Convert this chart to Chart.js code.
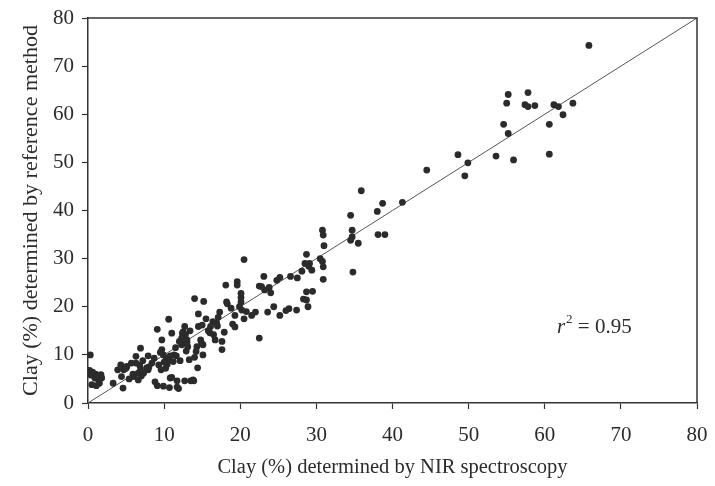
<!DOCTYPE html>
<html>
<head>
<meta charset="utf-8">
<script src="https://cdn.jsdelivr.net/npm/chart.js@4"></script>
<style>
  html, body { margin: 0; padding: 0; background: #fff; }
  #wrap { width: 715px; height: 486px; }
</style>
</head>
<body>
<div id="wrap"><canvas id="myChart" width="715" height="486"></canvas></div>
<script>
// Clay (%) by NIR spectroscopy (x) vs reference method (y)
const nirX = [
  65.8, 55.2, 55.0, 57.8, 57.4, 57.8, 58.7, 61.2, 61.8, 63.7, 62.4, 54.6, 55.2, 60.6, 60.6, 55.9,
  53.6, 48.6, 49.9, 49.5, 44.5, 41.3, 38.7, 38.0, 35.9, 34.5, 38.1, 39.0, 34.7, 34.7, 34.5, 35.5,
  34.8, 30.8, 30.9, 31.0, 30.8, 30.9, 30.9, 28.7, 28.5, 29.1, 29.4, 28.1, 29.5, 28.7, 28.7, 28.9,
  28.3, 27.5, 26.6, 25.2, 23.1, 22.8, 22.5, 23.2, 24.0, 24.4, 25.2, 23.6, 22.0, 22.5, 26.4, 27.4,
  20.5, 19.6, 19.6, 18.1, 20.1, 20.1, 20.1, 19.9, 20.2, 20.5, 19.3, 18.3, 18.2, 17.3, 17.9, 19.0,
  19.3, 17.1, 16.9, 16.4, 16.1, 15.8, 16.7, 17.6, 17.6, 15.2, 14.0, 14.5, 15.5, 15.0, 14.5, 14.8,
  15.1, 15.1, 14.3, 14.2, 14.4, 13.9, 13.5, 12.7, 11.7, 11.9, 11.0, 10.7, 9.1, 10.6, 12.1, 13.3,
  12.7, 12.4, 12.8, 12.3, 12.4, 13.0, 13.1, 12.3, 11.3, 11.0, 10.6, 9.1, 9.7, 9.7, 9.9, 10.3,
  9.3, 9.6, 8.7, 7.9, 8.4, 7.9, 6.9, 6.3, 6.3, 6.9, 5.7, 5.1, 4.3, 3.9, 4.7, 6.0,
  6.6, 5.4, 4.6, 4.4, 3.3, 6.6, 7.3, 7.7, 1.7, 1.4, 1.5, 0.9, 0.3, 0.2, 0.6, 0.5,
  1.1, 11.7, 13.8, 8.8, 9.9, 10.8, 10.4, 10.8, 12.5, 13.4, 12.0, 11.5, 10.0, 9.5, 8.0, 7.2,
  6.8, 5.9, 7.0, 5.0, 1.0, 0.4, 1.8, 10.2, 11.2, 13.0, 14.0, 16.5, 18.8, 21.5, 23.8, 29.0,
  30.5, 20.8, 17.0, 24.8, 26.0, 16.0, 14.9, 12.9, 11.6
];
const refY = [
  74.3, 64.1, 62.3, 64.5, 62.0, 61.6, 61.8, 62.0, 61.6, 62.3, 59.9, 57.9, 56.0, 57.9, 51.7, 50.5,
  51.3, 51.6, 49.9, 47.2, 48.4, 41.7, 41.5, 39.8, 44.1, 39.0, 35.0, 35.0, 35.9, 34.5, 33.8, 33.2,
  27.2, 35.9, 34.9, 32.7, 29.4, 28.3, 25.7, 30.9, 29.0, 29.0, 27.6, 27.4, 23.2, 23.1, 21.4, 20.0,
  21.6, 26.0, 26.3, 26.1, 26.3, 24.2, 24.3, 23.5, 22.9, 20.0, 18.2, 18.9, 18.9, 13.5, 19.6, 19.3,
  29.8, 25.2, 24.5, 24.5, 22.8, 21.9, 21.0, 20.0, 19.3, 17.5, 18.2, 20.6, 21.0, 18.9, 14.7, 16.4,
  15.8, 17.8, 16.6, 16.9, 15.9, 15.0, 13.1, 12.8, 11.1, 21.1, 21.7, 18.5, 17.5, 16.2, 15.9, 13.1,
  12.1, 10.0, 11.7, 10.7, 7.3, 4.6, 4.6, 4.6, 4.6, 3.0, 5.3, 3.2, 3.6, 8.8, 8.8, 9.0,
  15.9, 14.5, 14.2, 13.5, 12.4, 13.1, 11.7, 12.1, 10.0, 14.5, 17.4, 15.3, 13.1, 11.1, 10.0, 9.3,
  7.9, 6.9, 9.3, 9.8, 8.3, 6.9, 11.4, 9.7, 8.3, 6.9, 8.3, 7.6, 7.9, 6.9, 6.9, 5.5,
  4.8, 5.0, 3.1, 5.5, 4.1, 6.2, 6.2, 7.3, 5.9, 4.8, 4.1, 5.2, 10.0, 6.8, 6.4, 3.8,
  3.6, 3.3, 4.8, 4.4, 3.5, 5.2, 8.0, 9.8, 14.8, 15.0, 12.8, 11.5, 8.5, 10.5, 7.5, 8.8,
  7.8, 6.0, 5.6, 7.2, 6.0, 5.8, 5.2, 7.2, 8.6, 12.6, 9.5, 14.2, 19.7, 18.2, 24.0, 28.4,
  30.0, 19.0, 16.0, 25.5, 19.2, 14.6, 12.5, 10.8, 9.8
];
const refLine = [0, 80];
const xTicks = [0, 10, 20, 30, 40, 50, 60, 70, 80];
const yTicks = [0, 10, 20, 30, 40, 50, 60, 70, 80];
const rSquared = '0.95';

const points = nirX.map((x, i) => ({ x: x, y: refY[i] }));
const serif = 'Liberation Serif, Times New Roman, serif';
const ink = '#2b2b2b';

// frame on top/right + r² label
const extras = {
  id: 'extras',
  afterDraw(chart) {
    const { ctx, chartArea: a, scales } = chart;
    ctx.save();
    ctx.strokeStyle = '#333';
    ctx.lineWidth = 1.5;
    ctx.beginPath();
    ctx.moveTo(a.left, a.top);
    ctx.lineTo(a.right, a.top);
    ctx.lineTo(a.right, a.bottom);
    ctx.stroke();

    const px = scales.x.getPixelForValue(61.6);
    const py = scales.y.getPixelForValue(15.6);
    ctx.fillStyle = ink;
    ctx.textBaseline = 'middle';
    ctx.font = 'italic 21px ' + serif;
    ctx.fillText('r', px, py);
    let w = ctx.measureText('r').width;
    ctx.font = '13px ' + serif;
    ctx.fillText('2', px + w + 1, py - 8);
    w += ctx.measureText('2').width + 1;
    ctx.font = '21px ' + serif;
    ctx.fillText(' = ' + rSquared, px + w, py);
    ctx.restore();
  }
};

new Chart(document.getElementById('myChart'), {
  type: 'scatter',
  data: {
    datasets: [{
      data: points,
      pointRadius: 3.4,
      pointBackgroundColor: ink,
      pointBorderWidth: 0,
      order: 1
    }, {
      type: 'line',
      data: refLine.map(v => ({ x: v, y: v })),
      borderColor: '#555',
      borderWidth: 1,
      pointRadius: 0,
      order: 2
    }]
  },
  options: {
    responsive: false,
    animation: false,
    layout: { padding: { left: 0, right: 18, top: 18, bottom: 0 } },
    plugins: { legend: { display: false }, tooltip: { enabled: false } },
    scales: {
      x: {
        type: 'linear', min: 0, max: 80,
        afterBuildTicks: s => { s.ticks = xTicks.map(v => ({ value: v })); },
        afterFit: s => { s.height = 83; s.paddingLeft = 0; s.paddingRight = 0; },
        grid: { drawOnChartArea: false, tickLength: 6, color: '#333', tickWidth: 1.2 },
        border: { color: '#333', width: 1.5 },
        ticks: { color: ink, font: { family: serif, size: 21 }, padding: 14, maxRotation: 0 },
        title: { display: true, text: 'Clay (%) determined by NIR spectroscopy', color: ink,
                 font: { family: serif, size: 20.5 }, padding: { top: 0, bottom: 6 } }
      },
      y: {
        type: 'linear', min: 0, max: 80,
        afterBuildTicks: s => { s.ticks = yTicks.map(v => ({ value: v })); },
        afterFit: s => { s.width = 88; s.paddingTop = 0; s.paddingBottom = 0; },
        grid: { drawOnChartArea: false, tickLength: 6, color: '#333', tickWidth: 1.2 },
        border: { color: '#333', width: 1.5 },
        ticks: { color: ink, font: { family: serif, size: 21 }, padding: 8 },
        title: { display: true, text: 'Clay (%) determined by reference method', color: ink,
                 font: { family: serif, size: 22 }, padding: { top: 18, bottom: 0 } }
      }
    }
  },
  plugins: [extras]
});
</script>
</body>
</html>
